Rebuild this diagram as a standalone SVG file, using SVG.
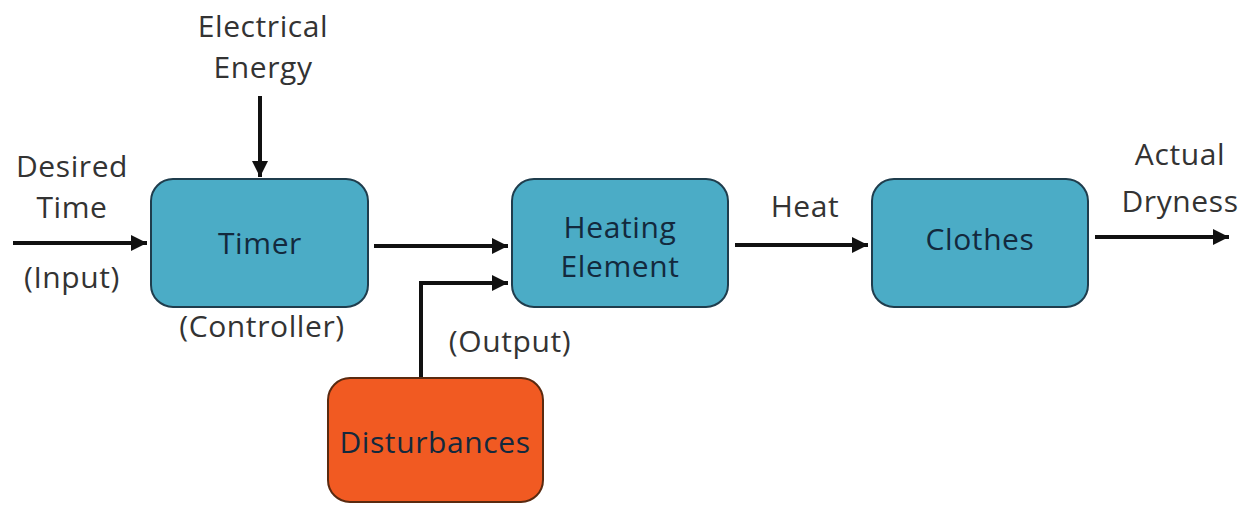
<svg xmlns="http://www.w3.org/2000/svg" width="1245" height="505" viewBox="0 0 1245 505">
<defs>
<marker id="ah" viewBox="0 0 10 10" refX="10" refY="5" markerWidth="4" markerHeight="4" markerUnits="strokeWidth" orient="auto">
<path d="M0,0 L10,5 L0,10 z" fill="#111"/>
</marker>
<style>
.box{fill:#4BACC6;stroke:#1F3D4D;stroke-width:2}
.dist{fill:#F15A22;stroke:#5A2A10;stroke-width:2}
.t{font-family:"Open Sans","DejaVu Sans",sans-serif;font-size:30px;letter-spacing:0.6px;fill:#333;text-anchor:middle}
.bt{font-family:"Open Sans","DejaVu Sans",sans-serif;font-size:30px;letter-spacing:0.6px;fill:#13293D;text-anchor:middle}
.c{stroke:#111;stroke-width:4;fill:none}
</style>
</defs>
<rect width="1245" height="505" fill="#fff"/>
<g id="connectors">
<line class="c" x1="13" y1="243" x2="147" y2="243" marker-end="url(#ah)"/>
<line class="c" x1="260" y1="96" x2="260" y2="177" marker-end="url(#ah)"/>
<line class="c" x1="374" y1="246" x2="508" y2="246" marker-end="url(#ah)"/>
<polyline class="c" points="421,378 421,283 508,283" marker-end="url(#ah)"/>
<line class="c" x1="735" y1="245" x2="868" y2="245" marker-end="url(#ah)"/>
<line class="c" x1="1095" y1="237" x2="1229" y2="237" marker-end="url(#ah)"/>
</g>
<g id="timer">
<rect class="box" x="151" y="179" width="217" height="128" rx="22"/>
<text class="bt" x="260" y="254">Timer</text>
</g>
<g id="heating-element">
<rect class="box" x="512" y="179" width="216" height="128" rx="22"/>
<text class="bt" x="620" y="238">Heating</text>
<text class="bt" x="620" y="277">Element</text>
</g>
<g id="clothes">
<rect class="box" x="872" y="179" width="216" height="128" rx="22"/>
<text class="bt" x="980" y="250">Clothes</text>
</g>
<g id="disturbances">
<rect class="dist" x="328" y="378" width="215" height="124" rx="22"/>
<text class="bt" x="435" y="453">Disturbances</text>
</g>
<g id="labels">
<text class="t" x="263" y="37">Electrical</text>
<text class="t" x="263" y="78">Energy</text>
<text class="t" x="72" y="177">Desired</text>
<text class="t" x="72" y="218">Time</text>
<text class="t" x="72" y="288">(Input)</text>
<text class="t" x="262" y="337">(Controller)</text>
<text class="t" x="510" y="352">(Output)</text>
<text class="t" x="805" y="217">Heat</text>
<text class="t" x="1180" y="165">Actual</text>
<text class="t" x="1180" y="212">Dryness</text>
</g>
</svg>
